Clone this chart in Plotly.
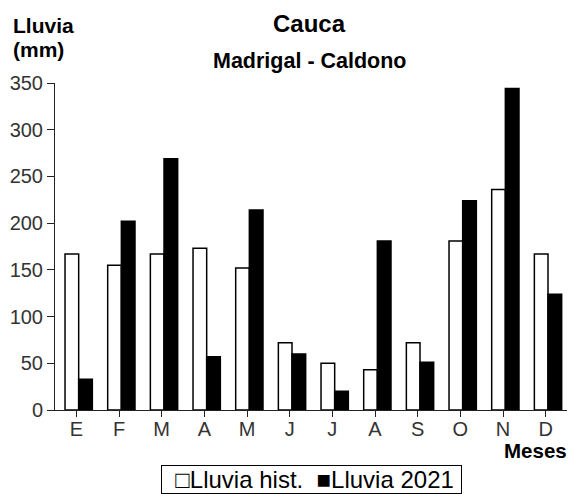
import plotly.graph_objects as go

meses = ["E", "F", "M", "A", "M", "J", "J", "A", "S", "O", "N", "D"]
lluvia_hist = [167, 155, 167, 173, 152, 72, 50, 43, 72, 181, 236, 167]
lluvia_2021 = [33, 202, 269, 57, 214, 60, 20, 181, 51, 224, 344, 124]
y_ticks = [0, 50, 100, 150, 200, 250, 300, 350]
serie_nombres = ["Lluvia hist.", "Lluvia 2021"]

x = list(range(len(meses)))

fig = go.Figure()
fig.add_trace(go.Bar(x=x, y=lluvia_hist, name=serie_nombres[0], offset=-0.265, width=0.32,
                     marker=dict(color="white", line=dict(color="black", width=1.5))))
fig.add_trace(go.Bar(x=x, y=lluvia_2021, name=serie_nombres[1], offset=0.055, width=0.32,
                     marker=dict(color="black", line=dict(color="black", width=1.5))))

L, R, T, B = 55, 3, 83, 84
W, H = 570, 494
pw, ph = W - L - R, H - T - B

def px(xp):
    return (xp - L) / pw

def py(yp):
    return (H - B - yp) / ph

FONT = "Liberation Sans, Arial, sans-serif"
NB = "\u00a0"
legend_text = NB * 2 + "\u25a1" + serie_nombres[0] + NB * 2 + "\u25a0" + serie_nombres[1] + NB

fig.update_layout(
    width=W, height=H,
    margin=dict(l=L, r=R, t=T, b=B, pad=0),
    plot_bgcolor="white", paper_bgcolor="white",
    barmode="overlay",
    font=dict(family=FONT, color="#333333"),
    showlegend=False,
    xaxis=dict(tickmode="array", tickvals=x, ticktext=meses, range=[-0.5, 11.5],
               showline=True, linecolor="#222222", linewidth=1, ticks="outside",
               tickson="boundaries", ticklen=6, tickcolor="#222222", ticklabelstandoff=-5,
               tickfont=dict(size=20, color="#333333"), showgrid=False, zeroline=False),
    yaxis=dict(range=[0, 350], tickvals=y_ticks, showline=True, linecolor="#222222",
               linewidth=1, ticks="outside", ticklen=7, tickcolor="#222222",
               tickfont=dict(size=20, color="#333333"), showgrid=False, zeroline=False),
    annotations=[
        dict(text="<b>Cauca</b>", x=px(309), y=py(24), xref="paper", yref="paper",
             showarrow=False, font=dict(size=24, color="black"), xanchor="center", yanchor="middle"),
        dict(text="<b>Madrigal - Caldono</b>", x=px(310), y=py(60.5), xref="paper", yref="paper",
             showarrow=False, font=dict(size=21.5, color="black"), xanchor="center", yanchor="middle"),
        dict(text="<b>Lluvia</b>", x=px(11), y=py(26), xref="paper", yref="paper",
             showarrow=False, font=dict(size=21, color="black"), xanchor="left", yanchor="middle"),
        dict(text="<b>(mm)</b>", x=px(11), y=py(49.5), xref="paper", yref="paper",
             showarrow=False, font=dict(size=21, color="black"), xanchor="left", yanchor="middle"),
        dict(text="<b>Meses</b>", x=px(569), y=py(450), xref="paper", yref="paper",
             showarrow=False, font=dict(size=20.5, color="black"), xanchor="right", yanchor="middle"),
        dict(text=legend_text, x=px(311.5), y=py(479), xref="paper", yref="paper",
             showarrow=False, font=dict(size=24, color="black"), xanchor="center", yanchor="middle",
             bordercolor="black", borderwidth=1, borderpad=0, bgcolor="white"),
    ],
)

fig.write_html("out.html", config={"displayModeBar": False},
               post_script="document.body.style.margin='0';document.body.style.overflow='hidden';")
